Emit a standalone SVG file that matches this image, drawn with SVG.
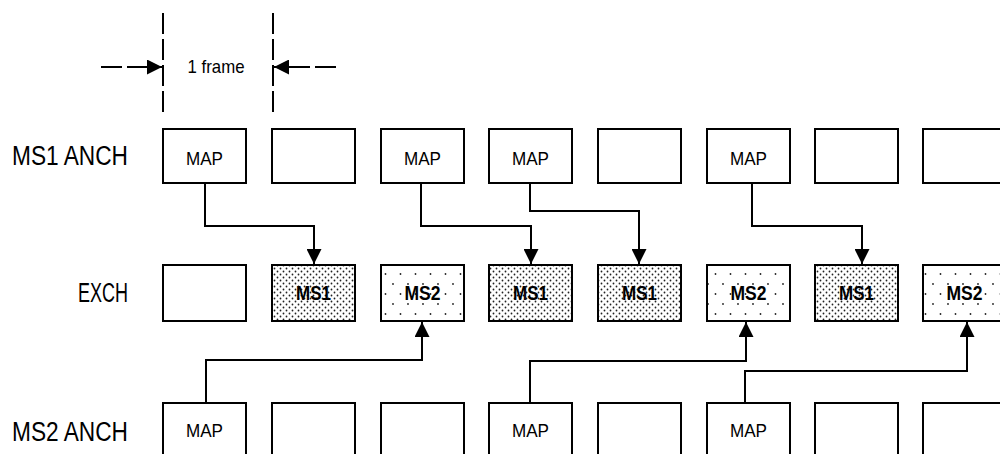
<svg xmlns="http://www.w3.org/2000/svg" width="1000" height="454" viewBox="0 0 1000 454">
<defs>
<style>
.box{fill:#fff;stroke:#000;stroke-width:2}
.ms1{fill:url(#dense);stroke:#000;stroke-width:2}
.ms2{fill:url(#sparse);stroke:#000;stroke-width:2}
.map{font-family:"Liberation Sans",Arial,sans-serif;font-size:18px;text-anchor:middle;fill:#000}
.ms{font-family:"Liberation Sans",Arial,sans-serif;font-size:21px;font-weight:bold;text-anchor:middle;fill:#000}
.lbl{font-family:"Liberation Sans",Arial,sans-serif;font-size:27px;fill:#000}
.con{fill:none;stroke:#000;stroke-width:2}
.dash{fill:none;stroke:#000;stroke-width:2;stroke-dasharray:21 5}
</style>
<pattern id="dense" width="6" height="6" patternUnits="userSpaceOnUse">
<rect width="6" height="6" fill="#fff"/>
<circle cx="1.5" cy="1.5" r="0.9" fill="#222"/>
<circle cx="4.5" cy="4.5" r="0.9" fill="#222"/>
</pattern>
<pattern id="sparse" width="15" height="20" patternUnits="userSpaceOnUse">
<rect width="15" height="20" fill="#fff"/>
<circle cx="3" cy="4" r="0.9" fill="#222"/>
<circle cx="10.5" cy="14" r="0.9" fill="#222"/>
</pattern>
<marker id="arr" markerUnits="userSpaceOnUse" markerWidth="15" markerHeight="15" refX="15" refY="7.5" orient="auto">
<path d="M0,0 L15,7.5 L0,15 z" fill="#000"/>
</marker>
</defs>
<rect width="1000" height="454" fill="#fff"/>

<g id="frame">
<line class="dash" x1="163" y1="13" x2="163" y2="113"/>
<line class="dash" x1="273" y1="13" x2="273" y2="113"/>
<line class="dash" x1="101" y1="67" x2="162" y2="67" marker-end="url(#arr)"/>
<line class="dash" x1="336" y1="67" x2="274" y2="67" marker-end="url(#arr)"/>
<text class="map" x="216" y="73" textLength="57" lengthAdjust="spacingAndGlyphs" style="font-size:19px">1 frame</text>
</g>

<g id="labels">
<text class="lbl" x="12" y="165" textLength="116" lengthAdjust="spacingAndGlyphs">MS1 ANCH</text>
<text class="lbl" x="78" y="302" textLength="50" lengthAdjust="spacingAndGlyphs">EXCH</text>
<text class="lbl" x="12" y="441" textLength="116" lengthAdjust="spacingAndGlyphs">MS2 ANCH</text>
</g>

<g id="ms1anch">
<g id="a0"><rect class="box" x="163" y="129" width="83" height="54"/><text class="map" x="204.5" y="165" textLength="37" lengthAdjust="spacingAndGlyphs">MAP</text></g>
<g id="a1"><rect class="box" x="272" y="129" width="83" height="54"/></g>
<g id="a2"><rect class="box" x="381" y="129" width="83" height="54"/><text class="map" x="422.5" y="165" textLength="37" lengthAdjust="spacingAndGlyphs">MAP</text></g>
<g id="a3"><rect class="box" x="489" y="129" width="83" height="54"/><text class="map" x="530.5" y="165" textLength="37" lengthAdjust="spacingAndGlyphs">MAP</text></g>
<g id="a4"><rect class="box" x="598" y="129" width="83" height="54"/></g>
<g id="a5"><rect class="box" x="707" y="129" width="83" height="54"/><text class="map" x="748.5" y="165" textLength="37" lengthAdjust="spacingAndGlyphs">MAP</text></g>
<g id="a6"><rect class="box" x="815" y="129" width="83" height="54"/></g>
<g id="a7"><rect class="box" x="923" y="129" width="83" height="54"/></g>
</g>

<g id="exch">
<g id="e0"><rect class="box" x="163" y="265" width="83" height="56"/></g>
<g id="e1"><rect class="ms1" x="272" y="265" width="83" height="56"/><text class="ms" x="313.5" y="300" textLength="35" lengthAdjust="spacingAndGlyphs">MS1</text></g>
<g id="e2"><rect class="ms2" x="381" y="265" width="83" height="56"/><text class="ms" x="422.5" y="300" textLength="36" lengthAdjust="spacingAndGlyphs">MS2</text></g>
<g id="e3"><rect class="ms1" x="489" y="265" width="83" height="56"/><text class="ms" x="530.5" y="300" textLength="35" lengthAdjust="spacingAndGlyphs">MS1</text></g>
<g id="e4"><rect class="ms1" x="598" y="265" width="83" height="56"/><text class="ms" x="639.5" y="300" textLength="35" lengthAdjust="spacingAndGlyphs">MS1</text></g>
<g id="e5"><rect class="ms2" x="707" y="265" width="83" height="56"/><text class="ms" x="748.5" y="300" textLength="36" lengthAdjust="spacingAndGlyphs">MS2</text></g>
<g id="e6"><rect class="ms1" x="815" y="265" width="83" height="56"/><text class="ms" x="856.5" y="300" textLength="35" lengthAdjust="spacingAndGlyphs">MS1</text></g>
<g id="e7"><rect class="ms2" x="923" y="265" width="83" height="56"/><text class="ms" x="964.5" y="300" textLength="36" lengthAdjust="spacingAndGlyphs">MS2</text></g>
</g>

<g id="ms2anch">
<g id="b0"><rect class="box" x="163" y="403" width="83" height="60"/><text class="map" x="204.5" y="437" textLength="37" lengthAdjust="spacingAndGlyphs">MAP</text></g>
<g id="b1"><rect class="box" x="272" y="403" width="83" height="60"/></g>
<g id="b2"><rect class="box" x="381" y="403" width="83" height="60"/></g>
<g id="b3"><rect class="box" x="489" y="403" width="83" height="60"/><text class="map" x="530.5" y="437" textLength="37" lengthAdjust="spacingAndGlyphs">MAP</text></g>
<g id="b4"><rect class="box" x="598" y="403" width="83" height="60"/></g>
<g id="b5"><rect class="box" x="707" y="403" width="83" height="60"/><text class="map" x="748.5" y="437" textLength="37" lengthAdjust="spacingAndGlyphs">MAP</text></g>
<g id="b6"><rect class="box" x="815" y="403" width="83" height="60"/></g>
<g id="b7"><rect class="box" x="923" y="403" width="83" height="60"/></g>
</g>

<g id="connectors">
<path class="con" d="M205,183 V226 H314 V264" marker-end="url(#arr)"/>
<path class="con" d="M421,183 V226 H531 V264" marker-end="url(#arr)"/>
<path class="con" d="M530,183 V211 H639 V264" marker-end="url(#arr)"/>
<path class="con" d="M752,183 V226 H862 V264" marker-end="url(#arr)"/>
<path class="con" d="M206,403 V360 H422 V322" marker-end="url(#arr)"/>
<path class="con" d="M530,403 V361 H746 V322" marker-end="url(#arr)"/>
<path class="con" d="M745,403 V371 H967 V322" marker-end="url(#arr)"/>
</g>
</svg>
